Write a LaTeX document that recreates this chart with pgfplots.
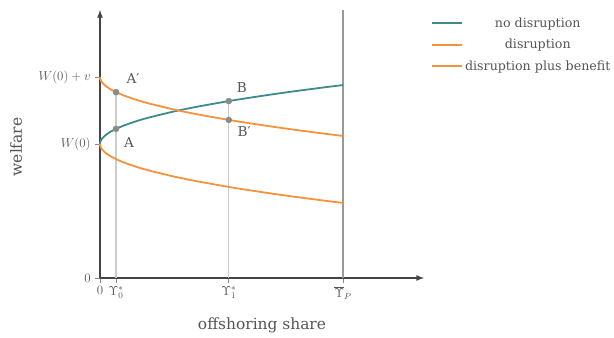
\documentclass[border=0pt]{standalone}
\usepackage{pgfplots}
\pgfplotsset{compat=1.18}
\usepackage{fontspec}
\setmainfont{DejaVu Serif}

\definecolor{curveteal}{HTML}{3D8B8D}
\definecolor{curveorange}{HTML}{F5923E}
\definecolor{axisgray}{HTML}{444444}
\definecolor{textgray}{HTML}{555555}
\definecolor{pointgray}{HTML}{8A8A8A}
\definecolor{guidegray}{HTML}{CCCCCC}
\definecolor{capgray}{HTML}{999999}

\begin{document}
\begin{tikzpicture}[x=1bp,y=1bp]
\useasboundingbox (-100,-59) rectangle (514,278);
\begin{axis}[
  scale only axis, width=324bp, height=268bp,
  xmin=0, xmax=1.3333, ymin=0, ymax=2,
  axis lines=left,
  axis line style={color=axisgray, line width=1.6pt, -latex},
  tick align=outside, major tick length=4.5bp,
  tick style={color=pointgray, line width=1pt},
  xtick={0,0.066,0.53,1},
  xticklabels={$0$,$\Upsilon_0^*$,$\Upsilon_1^*$,$\overline{\Upsilon}_P$},
  ytick={0,1,1.5},
  yticklabels={$0$,$W(0)$,$W(0)+v$},
  ticklabel style={text=textgray, font=\fontsize{12}{14}\selectfont, scale=1.08},
  yticklabel style={xshift=-1bp},
  xlabel={offshoring share},
  ylabel={welfare},
  label style={text=textgray, font=\fontsize{15.5}{18}\selectfont},
  xlabel style={at={(axis description cs:0.5,-0.175)}, anchor=center},
  ylabel style={at={(axis description cs:-0.259,0.489)}, anchor=center, rotate=0},
  legend style={draw=none, fill=none, at={(axis description cs:1.012,0.988)}, anchor=north west,
    font=\fontsize{12.7}{15}\selectfont, text=textgray, row sep=6.5bp},
  legend cell align=center,
  legend image code/.code={\draw[#1, line width=2pt] (0bp,0bp) -- (30bp,0bp);},
  clip=false,
]
% guide lines at the two equilibria and at the upper bound
\addplot[guidegray, line width=1.4pt, forget plot] coordinates {(0.066,0) (0.066,1.388)};
\addplot[guidegray, line width=1.4pt, forget plot] coordinates {(0.53,0) (0.53,1.32)};
\addplot[capgray, line width=1.4pt, forget plot] coordinates {(1,0) (1,2)};

% welfare without disruption
\addplot[curveteal, line width=1.8pt, smooth] coordinates {
  (0,1) (0.0005,1.0098) (0.002,1.0197) (0.005,1.0311) (0.01,1.044) (0.02,1.0622)
  (0.04,1.088) (0.066,1.113) (0.1,1.1391) (0.15,1.1704) (0.2,1.1968) (0.3,1.241)
  (0.4,1.2783) (0.53,1.3203) (0.6,1.3408) (0.7,1.3681) (0.8,1.3935) (0.9,1.4174) (1,1.44)};
\addlegendentry{no disruption}

% welfare with disruption
\addplot[curveorange, line width=1.8pt, smooth] coordinates {
  (0,1) (0.0005,0.9902) (0.002,0.9803) (0.005,0.9689) (0.01,0.956) (0.02,0.9378)
  (0.04,0.912) (0.066,0.887) (0.1,0.8609) (0.15,0.8296) (0.2,0.8032) (0.3,0.759)
  (0.4,0.7217) (0.53,0.6797) (0.6,0.6592) (0.7,0.6319) (0.8,0.6065) (0.9,0.5826) (1,0.56)};
\addlegendentry{disruption}

% welfare with disruption plus the benefit v
\addplot[curveorange, line width=1.8pt, smooth] coordinates {
  (0,1.5) (0.0005,1.4902) (0.002,1.4803) (0.005,1.4689) (0.01,1.456) (0.02,1.4378)
  (0.04,1.412) (0.066,1.387) (0.1,1.3609) (0.15,1.3296) (0.2,1.3032) (0.3,1.259)
  (0.4,1.2217) (0.53,1.1797) (0.6,1.1592) (0.7,1.1319) (0.8,1.1065) (0.9,1.0826) (1,1.06)};
\addlegendentry{disruption plus benefit}

% equilibrium points
\addplot[only marks, mark=*, mark size=3bp, color=pointgray, forget plot] coordinates {
  (0.066,1.113) (0.066,1.387) (0.53,1.3203) (0.53,1.1797)};

\node[text=textgray, font=\fontsize{13.6}{16}\selectfont] at (axis cs:0.136,1.49) {A′};
\node[text=textgray, font=\fontsize{13.6}{16}\selectfont] at (axis cs:0.119,1.01) {A};
\node[text=textgray, font=\fontsize{13.6}{16}\selectfont] at (axis cs:0.584,1.418) {B};
\node[text=textgray, font=\fontsize{13.6}{16}\selectfont] at (axis cs:0.593,1.09) {B′};
\end{axis}
\end{tikzpicture}
\end{document}
